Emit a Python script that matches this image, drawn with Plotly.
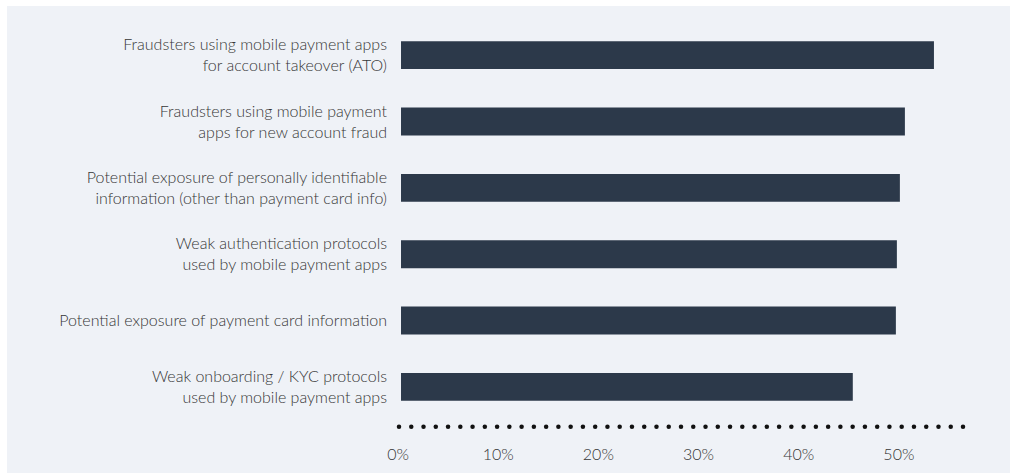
import numpy as np
import plotly.graph_objects as go

categories = [
    "Fraudsters using mobile payment apps<br>for account takeover (ATO)",
    "Fraudsters using mobile payment<br>apps for new account fraud",
    "Potential exposure of personally identifiable<br>information (other than payment card info)",
    "Weak authentication protocols<br>used by mobile payment apps",
    "Potential exposure of payment card information",
    "Weak onboarding / KYC protocols<br>used by mobile payment apps",
]
values = [53.2, 50.3, 49.8, 49.5, 49.4, 45.1]
x_tick_values = [0, 10, 20, 30, 40, 50]
x_tick_labels = ["0%", "10%", "20%", "30%", "40%", "50%"]

W, H = 1010, 473
OFF_X, OFF_Y = 7, 6          # page offset of the figure (white edge)
ML, MT = 398 - OFF_X, 22 - OFF_Y
PW, PH = 566, 408
MR, MB = W - ML - PW, H - MT - PH

BG = "#eff2f7"
BAR = "#2c394a"
TXT = "#363636"
FONT = "Lato"

ypos = list(range(len(categories) - 1, -1, -1))

fig = go.Figure()
fig.add_trace(go.Bar(
    x=values, y=ypos, orientation="h", width=0.42,
    marker=dict(color=BAR, line=dict(width=0)),
    hoverinfo="x+y", showlegend=False,
))

# dotted baseline decoration
dots_x = np.linspace(-0.2, 56.1, 47)
fig.add_trace(go.Scatter(
    x=dots_x, y=[-0.6] * len(dots_x), mode="markers",
    marker=dict(size=4.5, color="#111111", line=dict(width=0)),
    hoverinfo="skip", showlegend=False, cliponaxis=False,
))

fig.update_layout(
    width=W, height=H,
    margin=dict(l=ML, r=MR, t=MT, b=MB, pad=0),
    paper_bgcolor=BG, plot_bgcolor=BG,
    font=dict(family=FONT, color=TXT, size=16, weight=300),
    xaxis=dict(
        range=[-0.3, 56.2], tickvals=x_tick_values, ticktext=x_tick_labels,
        showgrid=False, zeroline=False, showline=False, ticks="",
        tickfont=dict(family=FONT, size=16, color=TXT, weight=300),
        ticklabelstandoff=13, ticklabelshift=-3, fixedrange=True,
    ),
    yaxis=dict(
        range=[-0.65, 5.5], tickvals=ypos, ticktext=categories,
        showgrid=False, zeroline=False, showline=False, ticks="",
        tickfont=dict(family=FONT, size=16, color=TXT, weight=300),
        ticklabelstandoff=10, fixedrange=True,
    ),
)

post = (
    "document.documentElement.style.overflow='hidden';"
    "document.body.style.overflow='hidden';"
    "document.body.style.margin='%dpx 0 0 %dpx';" % (OFF_Y, OFF_X)
)
fig.write_html("out.html", post_script=post)
